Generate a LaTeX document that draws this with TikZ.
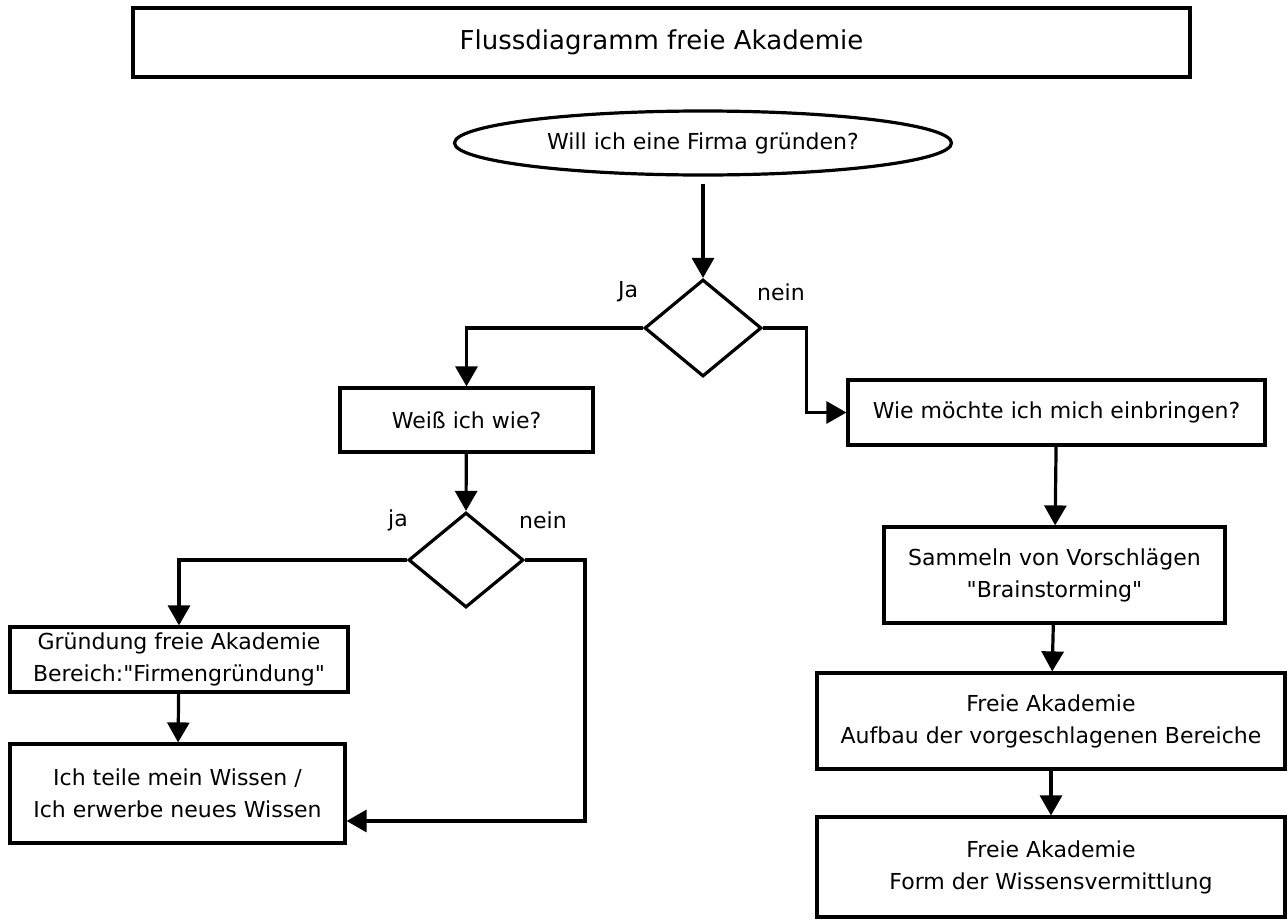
\documentclass[tikz,border=0pt]{standalone}
\usepackage{fontspec}
\setmainfont{DejaVu Sans}[Ligatures=TeXOff]
\usetikzlibrary{shapes.geometric,arrows.meta,positioning}

\tikzset{
  box/.style={draw, line width=3.2pt, rectangle, align=center, inner sep=0pt},
  frage/.style={draw, line width=3.2pt, diamond, inner sep=0pt},
  pfeil/.style={line width=3.2pt, -{Triangle[width=22pt,length=20pt]}},
  linie/.style={line width=3.2pt}
}

\begin{document}
\begin{tikzpicture}[x=1pt, y=-1pt, font=\fontsize{22}{32}\selectfont]
        \useasboundingbox (0,0) rectangle (1287,921);
        % Kopf
        \node[box, minimum width=1057pt, minimum height=69pt] (titel) at (661.5,42.5) {\fontsize{26}{32}\selectfont Flussdiagramm freie Akademie};
        \node[draw, line width=3.2pt, ellipse, minimum width=497pt, minimum height=64pt, inner sep=0pt] (start) at (703,143) {Will ich eine Firma gründen?};
        \node[frage, minimum width=117pt, minimum height=97pt] (frage1) at (703,328) {};
        \node (ja1) at (628,292) {Ja};
        \node (nein1) at (781,292) {nein};
        % linker Zweig
        \node[box, minimum width=253pt, minimum height=64pt] (weiss) at (466.5,420) {Weiß ich wie?};
        \node[frage, minimum width=115pt, minimum height=95pt] (frage2) at (466,560) {};
        \node (ja2) at (398,520) {ja};
        \node (nein2) at (543,520) {nein};
        \node[box, minimum width=338pt, minimum height=65pt] (gruendung) at (179,659.5) {Gründung freie Akademie\\Bereich:"Firmengründung"};
        \node[box, minimum width=335pt, minimum height=99pt] (wissen) at (177.5,793.5) {Ich teile mein Wissen /\\Ich erwerbe neues Wissen};
        \coordinate (zurueck) at (585,821);
        % rechter Zweig
        \node[box, minimum width=417pt, minimum height=65pt] (wie) at (1056.5,412.5) {Wie möchte ich mich einbringen?};
        \node[box, minimum width=341pt, minimum height=96pt] (sammeln) at (1054.5,575) {Sammeln von Vorschlägen\\"Brainstorming"};
        \node[box, minimum width=468pt, minimum height=96pt] (aufbau) at (1051,721) {Freie Akademie\\Aufbau der vorgeschlagenen Bereiche};
        \node[box, minimum width=468pt, minimum height=100pt] (form) at (1051,867) {Freie Akademie\\Form der Wissensvermittlung};
        % Verbindungen
        \draw[pfeil, shorten <=7pt] (start) -- (frage1.north);
        \draw[pfeil] (frage1.west) -| (weiss.north);
        \draw[pfeil] (frage1.east) -- ++(43,0) |- (wie.west);
        \draw[pfeil] (weiss) -- (frage2.north);
        \draw[pfeil] (frage2.west) -| (gruendung.north);
        \draw[pfeil] (gruendung) -- (wissen);
        \draw[pfeil] (frage2.east) -| (zurueck) -- (zurueck -| wissen.east);
        \draw[pfeil] (wie) -- (sammeln);
        \draw[pfeil] (sammeln) -- (aufbau);
        \draw[pfeil] (aufbau) -- (form);
\end{tikzpicture}
\end{document}
